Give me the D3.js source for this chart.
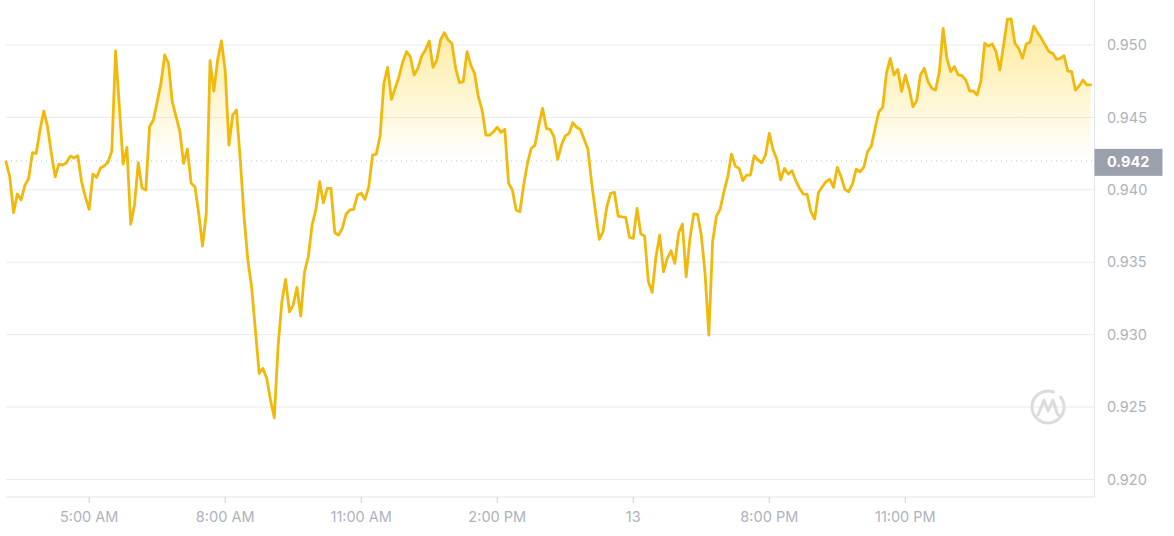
<!DOCTYPE html>
<html>
<head>
<meta charset="utf-8">
<script src="https://cdn.jsdelivr.net/npm/d3@7"></script>
<style>
  body { margin: 0; background: #fff; }
  text { font-family: Inter, "Noto Sans", sans-serif; }
</style>
</head>
<body>
<div id="chart"></div>
<script>
// price every 5 minutes, from 3:10 AM on the 12th
var startTime = "2024-01-12T03:10:00";
var stepMinutes = 5;
var prices = [
  0.94194, 0.94090, 0.93842, 0.93971, 0.93930, 0.94031, 0.94079, 0.94256, 0.94252, 0.94413,
  0.94544, 0.94436, 0.94252, 0.94090, 0.94178, 0.94171, 0.94187, 0.94233, 0.94220, 0.94236,
  0.94056, 0.93952, 0.93865, 0.94109, 0.94086, 0.94151, 0.94164, 0.94192, 0.94268, 0.94959,
  0.94574, 0.94178, 0.94293, 0.93762, 0.93895, 0.94187, 0.94012, 0.93999, 0.94436, 0.94482,
  0.94608, 0.94735, 0.94931, 0.94874, 0.94608, 0.94505, 0.94406, 0.94183, 0.94282, 0.94045,
  0.94021, 0.93838, 0.93612, 0.93838, 0.94892, 0.94682, 0.94896, 0.95028, 0.94827, 0.94309,
  0.94517, 0.94551, 0.94206, 0.93814, 0.93515, 0.93331, 0.93032, 0.92733, 0.92767, 0.92698,
  0.92548, 0.92426, 0.92916, 0.93227, 0.93382, 0.93158, 0.93204, 0.93327, 0.93128, 0.93434,
  0.93538, 0.93757, 0.93861, 0.94056, 0.93911, 0.94010, 0.94010, 0.93704, 0.93688, 0.93734,
  0.93833, 0.93861, 0.93865, 0.93964, 0.93976, 0.93934, 0.94021, 0.94240, 0.94247, 0.94372,
  0.94735, 0.94846, 0.94625, 0.94701, 0.94781, 0.94885, 0.94954, 0.94919, 0.94793, 0.94839,
  0.94924, 0.94965, 0.95028, 0.94846, 0.94896, 0.95035, 0.95085, 0.95035, 0.95012, 0.94839,
  0.94740, 0.94747, 0.94954, 0.94862, 0.94805, 0.94643, 0.94551, 0.94378, 0.94378, 0.94401,
  0.94432, 0.94397, 0.94418, 0.94045, 0.93999, 0.93861, 0.93849, 0.94033, 0.94183, 0.94287,
  0.94309, 0.94448, 0.94563, 0.94425, 0.94418, 0.94367, 0.94211, 0.94309, 0.94372, 0.94390,
  0.94463, 0.94432, 0.94418, 0.94349, 0.94280, 0.94045, 0.93849, 0.93658, 0.93711, 0.93883,
  0.93976, 0.93983, 0.93819, 0.93814, 0.93810, 0.93672, 0.93665, 0.93872, 0.93695, 0.93681,
  0.93365, 0.93292, 0.93538, 0.93688, 0.93434, 0.93527, 0.93579, 0.93492, 0.93700, 0.93764,
  0.93400, 0.93665, 0.93833, 0.93831, 0.93688, 0.93423, 0.92997, 0.93642, 0.93819, 0.93867,
  0.93988, 0.94090, 0.94247, 0.94164, 0.94148, 0.94063, 0.94102, 0.94102, 0.94236, 0.94206,
  0.94187, 0.94240, 0.94390, 0.94275, 0.94211, 0.94068, 0.94148, 0.94109, 0.94132, 0.94063,
  0.94010, 0.93971, 0.93969, 0.93849, 0.93798, 0.93980, 0.94021, 0.94056, 0.94073, 0.94017,
  0.94155, 0.94090, 0.94003, 0.93987, 0.94040, 0.94142, 0.94125, 0.94155, 0.94263, 0.94302,
  0.94425, 0.94539, 0.94570, 0.94805, 0.94908, 0.94793, 0.94832, 0.94680, 0.94793, 0.94701,
  0.94574, 0.94615, 0.94793, 0.94839, 0.94747, 0.94701, 0.94689, 0.94816, 0.95115, 0.94908,
  0.94816, 0.94850, 0.94793, 0.94788, 0.94758, 0.94684, 0.94682, 0.94655, 0.94753, 0.95012,
  0.94993, 0.95007, 0.94954, 0.94827, 0.95000, 0.95177, 0.95180, 0.95012, 0.94977, 0.94908,
  0.95007, 0.95019, 0.95131, 0.95085, 0.95046, 0.95000, 0.94954, 0.94943, 0.94901, 0.94908,
  0.94926, 0.94820, 0.94816, 0.94689, 0.94717, 0.94758, 0.94724, 0.94724
];
var baseline = 0.942;
var yTicks = [0.920, 0.925, 0.930, 0.935, 0.940, 0.945, 0.950];
var xTickTimes = ["2024-01-12T05:00:00", "2024-01-12T08:00:00", "2024-01-12T11:00:00",
  "2024-01-12T14:00:00", "2024-01-12T17:00:00", "2024-01-12T20:00:00", "2024-01-12T23:00:00"];
var xTickLabels = ["5:00 AM", "8:00 AM", "11:00 AM", "2:00 PM", "13", "8:00 PM", "11:00 PM"];

var width = 1174,
    height = 536,
    plotLeft = 6,
    plotRight = 1094.5,
    axisY = 497;

var t0 = new Date(startTime);
var data = prices.map(function(p, i) {
  return { t: new Date(t0.getTime() + i * stepMinutes * 60000), v: p };
});

var svg = d3.select("#chart").append("svg")
  .attr("width", width)
  .attr("height", height);

var x = d3.scaleTime()
  .domain(d3.extent(data, function(d) { return d.t; }))
  .range([plotLeft, 1090.5]);

var y = d3.scaleLinear()
  .domain([0.920, 0.950])
  .range([479.5, 45]);

/*
 * Gradient for the part above the baseline.
 */
var defs = svg.append("defs");
var grad = defs.append("linearGradient")
  .attr("id", "upFill")
  .attr("gradientUnits", "userSpaceOnUse")
  .attr("x1", 0).attr("x2", 0)
  .attr("y1", y(d3.max(prices)))
  .attr("y2", y(baseline));
grad.append("stop").attr("offset", "0%").attr("stop-color", "#fcd535").attr("stop-opacity", 0.5);
grad.append("stop").attr("offset", "100%").attr("stop-color", "#fcd535").attr("stop-opacity", 0);

defs.append("clipPath").attr("id", "above")
  .append("rect")
  .attr("x", 0).attr("y", 0)
  .attr("width", width)
  .attr("height", y(baseline));

/*
 * Grid lines.
 */
svg.append("g").selectAll("line")
  .data(yTicks)
  .enter().append("line")
  .attr("x1", plotLeft).attr("x2", plotRight)
  .attr("y1", function(d) { return y(d); })
  .attr("y2", function(d) { return y(d); })
  .attr("stroke", "#e9eaee")
  .attr("stroke-width", 1);

// axis frame
svg.append("line")
  .attr("x1", plotLeft).attr("x2", plotRight)
  .attr("y1", axisY).attr("y2", axisY)
  .attr("stroke", "#e3e5ea");
svg.append("line")
  .attr("x1", plotRight).attr("x2", plotRight)
  .attr("y1", 0).attr("y2", axisY)
  .attr("stroke", "#e3e5ea");

/*
 * Area above baseline and line.
 */
var area = d3.area()
  .x(function(d) { return x(d.t); })
  .y0(y(baseline))
  .y1(function(d) { return y(d.v); });

svg.append("path")
  .datum(data)
  .attr("clip-path", "url(#above)")
  .attr("fill", "url(#upFill)")
  .attr("d", area);

// dotted baseline
svg.append("line")
  .attr("x1", plotLeft).attr("x2", plotRight)
  .attr("y1", y(baseline)).attr("y2", y(baseline))
  .attr("stroke", "#c3c6cd")
  .attr("stroke-width", 1)
  .attr("stroke-dasharray", "1,4");

var line = d3.line()
  .x(function(d) { return x(d.t); })
  .y(function(d) { return y(d.v); });

svg.append("path")
  .datum(data)
  .attr("fill", "none")
  .attr("stroke", "#f0b90b")
  .attr("stroke-width", 2.8)
  .attr("stroke-linejoin", "round")
  .attr("stroke-linecap", "round")
  .attr("d", line);

/*
 * Y labels on the right.
 */
svg.append("g").selectAll("text")
  .data(yTicks)
  .enter().append("text")
  .attr("x", 1107)
  .attr("y", function(d) { return y(d); })
  .attr("dy", "0.36em")
  .attr("font-size", "14.5px")
  .attr("fill", "#adb3be")
  .text(function(d) { return d3.format(".3f")(d); });

// baseline price tag
var tag = svg.append("g").attr("transform", "translate(" + plotRight + "," + y(baseline) + ")");
tag.append("rect")
  .attr("x", 0).attr("y", -12)
  .attr("width", 68).attr("height", 27)
  .attr("fill", "#9aa0ac");
tag.append("text")
  .attr("x", 12.5).attr("y", 1)
  .attr("dy", "0.36em")
  .attr("font-size", "14.5px")
  .attr("font-weight", "bold")
  .attr("fill", "#ffffff")
  .text(d3.format(".3f")(baseline));

/*
 * X ticks and labels.
 */
var xt = svg.append("g").selectAll("g")
  .data(xTickTimes)
  .enter().append("g")
  .attr("transform", function(d) { return "translate(" + x(new Date(d)) + "," + axisY + ")"; });
xt.append("line")
  .attr("y1", 0).attr("y2", 6)
  .attr("stroke", "#cfd2d8");
xt.append("text")
  .attr("y", 25)
  .attr("text-anchor", "middle")
  .attr("font-size", "14.5px")
  .attr("fill", "#adb3be")
  .text(function(d, i) { return xTickLabels[i]; });

/*
 * Watermark logo.
 */
var logo = svg.append("g")
  .attr("transform", "translate(1048,407)")
  .attr("fill", "none")
  .attr("stroke", "#dcdcdc")
  .attr("stroke-width", 3)
  .attr("stroke-linecap", "round")
  .attr("stroke-linejoin", "round");
logo.append("path")
  .attr("d", d3.arc()({ innerRadius: 16, outerRadius: 16, startAngle: 0.9, endAngle: 2 * Math.PI + 0.35 }));
logo.append("path")
  .attr("d", "M-10,8 L-4,-7 L0,4 L5,-7 L9,6 Q11,11 15,7");
</script>
</body>
</html>
